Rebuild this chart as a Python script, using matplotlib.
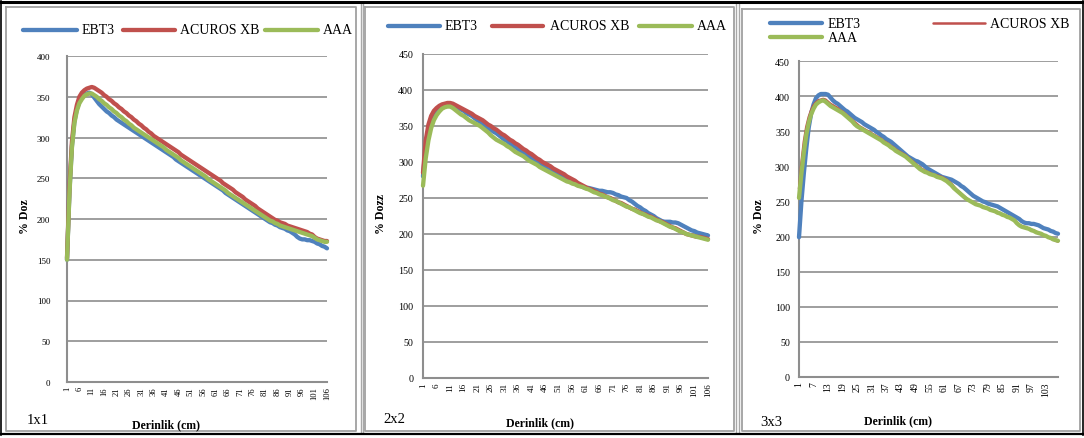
import matplotlib
matplotlib.use("Agg")
import matplotlib.pyplot as plt
from matplotlib.lines import Line2D

plt.rcParams['font.family'] = ['Liberation Serif', 'DejaVu Serif']

W, H = 1084, 439

series_names = ["EBT3", "ACUROS XB", "AAA"]
series_colors = ["#4F81BD", "#C0504D", "#9BBB59"]
panel_titles = ["1x1", "2x2", "3x3"]
y_titles = ["% Doz", "% Dozz", "% Doz"]
x_title = "Derinlik (cm)"

# ---- 1x1 field ----
ebt3_1x1 = [150, 235, 290, 320, 335, 344, 349, 352, 354, 355, 353, 349, 345, 341, 338, 335, 332, 330, 327, 325,
            322, 320, 318, 316, 314, 312, 310, 308, 306, 304, 302, 300, 298, 296, 294, 292, 290, 288, 286, 284,
            282, 280, 278, 276, 273, 271, 269, 267, 265, 263, 261, 259, 257, 255, 253, 251, 249, 247, 245, 243,
            241, 239, 237, 235, 232, 230, 228, 226, 224, 222, 220, 218, 216, 214, 212, 210, 208, 206, 204, 202,
            200, 198, 196, 195, 193, 192, 190, 189, 188, 186, 185, 183, 181, 178, 176, 175, 175, 174, 174, 173,
            172, 170, 169, 167, 166, 164]
acuros_1x1 = [152, 240, 295, 325, 340, 350, 355, 358, 360, 361, 362, 361, 359, 357, 355, 352, 350, 347, 345, 342,
              340, 337, 335, 332, 330, 327, 325, 322, 320, 317, 315, 312, 310, 307, 305, 302, 300, 298, 296, 294,
              292, 290, 288, 286, 284, 282, 279, 277, 275, 273, 271, 269, 267, 265, 263, 261, 259, 257, 255, 253,
              251, 249, 247, 244, 242, 240, 238, 236, 233, 231, 229, 227, 224, 222, 220, 218, 216, 213, 211, 209,
              207, 205, 203, 201, 199, 198, 196, 195, 194, 192, 191, 190, 189, 188, 187, 186, 185, 184, 182, 181,
              178, 176, 175, 174, 173, 173]
aaa_1x1 = [150, 232, 288, 318, 333, 342, 347, 351, 353, 354, 354, 352, 350, 347, 345, 342, 340, 337, 335, 332,
           330, 327, 325, 322, 320, 317, 315, 312, 310, 308, 306, 304, 302, 300, 298, 296, 294, 292, 290, 288,
           285, 283, 281, 279, 277, 275, 272, 270, 268, 266, 264, 262, 260, 258, 256, 254, 252, 249, 247, 245,
           243, 241, 239, 237, 235, 232, 230, 228, 226, 224, 222, 220, 218, 216, 214, 212, 210, 208, 206, 204,
           202, 200, 198, 197, 195, 194, 192, 191, 190, 189, 188, 187, 186, 185, 184, 183, 182, 181, 180, 179,
           177, 175, 174, 173, 172, 172]

# ---- 2x2 field ----
ebt3_2x2 = [280, 322, 345, 358, 366, 372, 376, 378, 380, 380, 380, 379, 377, 375, 373, 371, 368, 366, 364, 361,
            358, 356, 353, 350, 347, 345, 342, 340, 337, 334, 331, 329, 326, 323, 321, 318, 315, 313, 310, 308,
            305, 302, 300, 297, 295, 293, 290, 288, 286, 284, 282, 280, 278, 276, 274, 272, 270, 268, 267, 265,
            264, 264, 263, 262, 261, 260, 260, 259, 258, 258, 257, 255, 254, 252, 251, 250, 247, 245, 242, 239,
            237, 234, 232, 229, 227, 225, 222, 220, 218, 217, 217, 217, 216, 216, 215, 213, 211, 209, 207, 205,
            204, 202, 201, 200, 199, 198]
acuros_2x2 = [285, 330, 352, 364, 371, 375, 378, 380, 381, 382, 382, 381, 379, 377, 375, 373, 371, 369, 367, 364,
              362, 360, 358, 355, 352, 350, 347, 345, 342, 339, 337, 334, 331, 329, 326, 324, 321, 318, 316, 313,
              311, 308, 305, 303, 300, 298, 296, 294, 291, 289, 287, 285, 283, 280, 278, 276, 274, 271, 269, 267,
              265, 263, 262, 260, 258, 256, 255, 253, 251, 250, 248, 246, 244, 243, 241, 239, 237, 235, 234, 232,
              230, 228, 227, 225, 224, 222, 220, 218, 217, 215, 213, 211, 209, 208, 206, 204, 202, 200, 199, 198,
              197, 196, 196, 195, 194, 193]
aaa_2x2 = [267, 305, 330, 347, 358, 365, 370, 374, 376, 377, 377, 375, 372, 369, 366, 364, 361, 358, 356, 354,
           352, 350, 347, 344, 341, 337, 334, 331, 329, 327, 325, 322, 320, 317, 314, 312, 310, 308, 305, 302,
           300, 298, 296, 293, 291, 289, 287, 285, 283, 281, 279, 277, 275, 273, 272, 270, 269, 267, 266, 265,
           263, 262, 260, 258, 257, 255, 254, 252, 251, 249, 247, 246, 244, 242, 240, 238, 237, 235, 233, 231,
           229, 228, 226, 224, 223, 221, 219, 218, 216, 214, 212, 210, 209, 207, 205, 203, 202, 200, 199, 198,
           197, 196, 195, 194, 193, 192]

# ---- 3x3 field ----
ebt3_3x3 = [199, 250, 290, 325, 355, 375, 388, 397, 401, 403, 403, 403, 402, 398, 394, 391, 389, 386, 383, 380,
            378, 375, 372, 369, 367, 365, 363, 360, 358, 356, 354, 352, 349, 347, 344, 342, 339, 337, 335, 332,
            329, 326, 323, 320, 317, 314, 312, 310, 308, 307, 305, 303, 300, 297, 295, 293, 291, 289, 287, 285,
            284, 283, 282, 281, 279, 277, 275, 272, 270, 267, 264, 261, 258, 256, 254, 252, 250, 249, 247, 246,
            245, 244, 243, 241, 239, 237, 235, 233, 231, 229, 227, 225, 222, 220, 219, 219, 218, 218, 217, 216,
            214, 212, 211, 210, 208, 207, 205, 204]
acuros_3x3 = [268, 305, 335, 356, 370, 380, 387, 391, 394, 395, 396, 395, 392, 389, 387, 385, 383, 380, 378, 375,
              372, 369, 366, 363, 360, 357, 355, 353, 351, 349, 347, 345, 343, 341, 339, 336, 334, 332, 329, 327,
              324, 322, 320, 318, 316, 313, 310, 307, 304, 301, 298, 296, 294, 292, 291, 289, 288, 287, 286, 285,
              283, 281, 278, 275, 271, 267, 264, 261, 258, 255, 252, 250, 248, 247, 245, 244, 243, 241, 240, 239,
              237, 236, 235, 233, 232, 230, 229, 227, 225, 223, 220, 217, 215, 214, 213, 211, 210, 208, 207, 205,
              204, 202, 201, 199, 197, 196, 194, 193]
aaa_3x3 = [255, 290, 320, 345, 362, 374, 382, 388, 391, 393, 394, 392, 389, 386, 384, 382, 380, 378, 376, 373,
           370, 367, 364, 360, 357, 355, 353, 351, 349, 347, 345, 343, 341, 339, 337, 334, 332, 330, 327, 325,
           322, 320, 318, 316, 314, 311, 308, 305, 302, 299, 296, 294, 292, 291, 289, 288, 287, 285, 284, 283,
           281, 279, 276, 273, 269, 266, 263, 260, 257, 254, 252, 250, 248, 246, 245, 244, 242, 241, 240, 238,
           237, 236, 234, 233, 231, 230, 228, 227, 225, 223, 219, 216, 214, 213, 212, 211, 209, 208, 206, 205,
           204, 202, 201, 199, 198, 196, 195, 194]

panels = [
    dict(data=[ebt3_1x1, acuros_1x1, aaa_1x1], rect=(67, 57, 327, 383), ymax=400, step=5,
         ypad=12.0, yfs=6.5, xfs=6.2, red_lw=3.1, ylab_x=25, leg_y=31,
         leg=[(23, 77, 82), (123, 175, 180), (265, 318, 323)],
         title_xy=(27, 421), xlab_xy=(166, 425), box=(6, 8, 356, 432)),
    dict(data=[ebt3_2x2, acuros_2x2, aaa_2x2], rect=(423, 55, 708, 379), ymax=450, step=5,
         ypad=7.0, yfs=7.2, xfs=6.6, red_lw=3.1, ylab_x=381, leg_y=27,
         leg=[(388, 440, 445), (492, 543, 550), (639, 692, 697)],
         title_xy=(383, 420), xlab_xy=(540, 423), box=(365, 8, 734, 432)),
    dict(data=[ebt3_3x3, acuros_3x3, aaa_3x3], rect=(799, 62, 1058, 378), ymax=450, step=6,
         ypad=6.5, yfs=7.2, xfs=7.0, red_lw=1.8, ylab_x=759, leg_y=None,
         leg=[(770, 822, 828, 24), (933, 985, 990, 24), (770, 822, 828, 38)],
         title_xy=(760, 423), xlab_xy=(898, 421), box=(742, 10, 1080, 432)),
]

fig = plt.figure(figsize=(W / 100, H / 100), dpi=100)


def fx(x):
    return x / W


def fy(y):
    return 1 - y / H


def px_line(xs, ys, color, lw, **kw):
    fig.add_artist(Line2D([fx(x) for x in xs], [fy(y) for y in ys], color=color, lw=lw,
                          transform=fig.transFigure, **kw))


grid_c = "#8E8E8E"
main_lw = 3.1

for k, p in enumerate(panels):
    l, t, r, b = p["rect"]
    ax = fig.add_axes([fx(l), fy(b), (r - l) / W, (b - t) / H])
    n = len(p["data"][0])
    x = list(range(1, n + 1))
    for s, (vals, col) in enumerate(zip(p["data"], series_colors)):
        lw = p["red_lw"] if s == 1 else main_lw
        ax.plot(x, vals, color=col, lw=lw, solid_capstyle="round", solid_joinstyle="round",
                zorder=3 + s, clip_on=False)
    ax.set_xlim(1, n)
    ax.set_ylim(0, p["ymax"])
    ax.set_yticks(range(0, p["ymax"] + 1, 50))
    ax.set_xticks(range(1, n + 1, p["step"]))
    ax.set_xticklabels([str(v) for v in range(1, n + 1, p["step"])], rotation=90,
                       fontsize=p["xfs"], va="top", ha="center")
    ax.tick_params(axis="x", length=0, pad=3)
    ax.tick_params(axis="y", length=0, pad=p["ypad"], labelsize=p["yfs"])
    ax.yaxis.grid(True, color=grid_c, lw=1.2)
    ax.set_axisbelow(True)
    for side in ("top", "right"):
        ax.spines[side].set_visible(False)
    for side in ("left", "bottom"):
        ax.spines[side].set_color(grid_c)
        ax.spines[side].set_linewidth(1.5)
    ax.patch.set_alpha(0)

    # y-axis title
    fig.text(fx(p["ylab_x"]), fy((t + b) / 2 - 3), y_titles[k], rotation=90, fontsize=8.5,
             fontweight="bold", ha="center", va="center")
    # x-axis title and panel tag
    fig.text(fx(p["xlab_xy"][0]), fy(p["xlab_xy"][1]), x_title, fontsize=8.5, fontweight="bold",
             ha="center", va="center")
    fig.text(fx(p["title_xy"][0]), fy(p["title_xy"][1]), panel_titles[k], fontsize=10.5,
             ha="left", va="center")

    # legend
    for s, entry in enumerate(p["leg"]):
        x0, x1, xt = entry[:3]
        yy = entry[3] if len(entry) > 3 else p["leg_y"]
        lw = p["red_lw"] if s == 1 else main_lw
        px_line([x0, x1], [yy, yy], series_colors[s], lw, solid_capstyle="round")
        fig.text(fx(xt), fy(yy), series_names[s], fontsize=10, ha="left", va="center")

    # chart area border
    bl, bt, br, bb = p["box"]
    px_line([bl, br, br, bl, bl], [bt, bt, bb, bb, bt], "#A0A0A0", 1.3)

# table cell separators
for xs in (360.5, 363, 736, 739):
    px_line([xs, xs], [4, 434], "#A8A8A8", 1.0)
px_line([0, W], [2.5, 2.5], "black", 2.2)
px_line([0, W], [435, 435], "black", 1.6)
px_line([1, 1], [2, 436], "black", 1.2)
px_line([W - 1.5, W - 1.5], [2, 436], "black", 1.2)

fig.savefig("out.png", dpi=100)
